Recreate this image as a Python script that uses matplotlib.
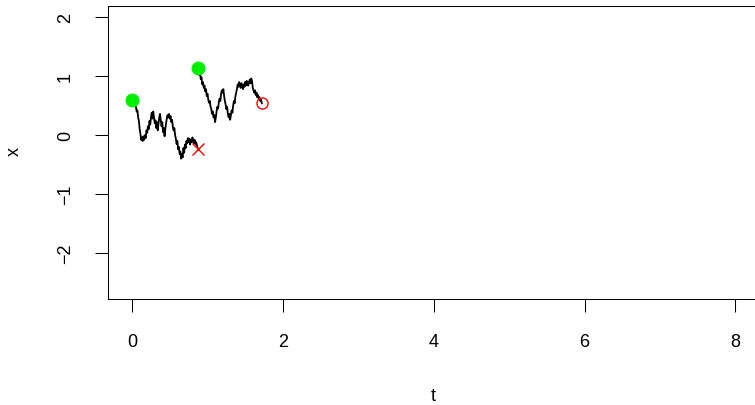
import matplotlib
matplotlib.use("Agg")
import matplotlib.pyplot as plt

plt.rcParams["font.family"] = ["Liberation Sans", "DejaVu Sans"]

# first sample path: time and state
t1 = [0.00, 0.02, 0.03, 0.05, 0.06, 0.07, 0.08, 0.09, 0.10, 0.11, 0.12, 0.13,
      0.14, 0.15, 0.16, 0.17, 0.18, 0.19, 0.20, 0.21, 0.22, 0.23, 0.24, 0.25,
      0.26, 0.27, 0.28, 0.29, 0.30, 0.31, 0.32, 0.33, 0.34, 0.35, 0.36, 0.37,
      0.38, 0.39, 0.40, 0.41, 0.42, 0.43, 0.44, 0.45, 0.46, 0.47, 0.48, 0.49,
      0.50, 0.51, 0.52, 0.53, 0.54, 0.55, 0.56, 0.57, 0.58, 0.59, 0.60, 0.61,
      0.62, 0.63, 0.64, 0.65, 0.66, 0.67, 0.68, 0.69, 0.70, 0.71, 0.72, 0.73,
      0.74, 0.75, 0.76, 0.77, 0.78, 0.79, 0.80, 0.81, 0.82, 0.83, 0.84, 0.85,
      0.86, 0.875]
x1 = [0.59, 0.60, 0.52, 0.48, 0.40, 0.42, 0.30, 0.24, 0.10, 0.02, -0.08, -0.04,
      -0.10, -0.02, -0.08, 0.00, -0.05, 0.08, 0.04, 0.15, 0.10, 0.24, 0.18, 0.30,
      0.38, 0.28, 0.40, 0.30, 0.20, 0.25, 0.12, 0.22, 0.08, 0.20, 0.30, 0.36,
      0.25, 0.15, 0.22, 0.05, 0.12, -0.02, 0.10, 0.20, 0.28, 0.34, 0.30, 0.36,
      0.28, 0.32, 0.22, 0.26, 0.14, 0.08, 0.12, 0.00, -0.06, -0.15, -0.10, -0.24,
      -0.20, -0.32, -0.28, -0.40, -0.32, -0.38, -0.22, -0.30, -0.16, -0.22, -0.10, -0.14,
      -0.05, -0.12, -0.06, -0.16, -0.08, -0.12, -0.04, -0.10, -0.14, -0.08, -0.15, -0.12,
      -0.18, -0.24]

# second sample path: time and state
t2 = [0.875, 0.89, 0.90, 0.91, 0.92, 0.93, 0.94, 0.95, 0.96, 0.97, 0.98, 0.99,
      1.00, 1.01, 1.02, 1.03, 1.04, 1.05, 1.06, 1.07, 1.08, 1.09, 1.10, 1.11,
      1.12, 1.13, 1.14, 1.15, 1.16, 1.17, 1.18, 1.19, 1.20, 1.21, 1.22, 1.23,
      1.24, 1.25, 1.26, 1.27, 1.28, 1.29, 1.30, 1.31, 1.32, 1.33, 1.34, 1.35,
      1.36, 1.37, 1.38, 1.39, 1.40, 1.41, 1.42, 1.43, 1.44, 1.45, 1.46, 1.47,
      1.48, 1.49, 1.50, 1.51, 1.52, 1.53, 1.54, 1.55, 1.56, 1.57, 1.58, 1.59,
      1.60, 1.61, 1.62, 1.63, 1.64, 1.65, 1.66, 1.67, 1.68, 1.69, 1.70, 1.71,
      1.72]
x2 = [1.14, 1.02, 1.06, 0.95, 0.98, 0.86, 0.90, 0.80, 0.84, 0.74, 0.78, 0.66,
      0.70, 0.60, 0.55, 0.58, 0.48, 0.44, 0.36, 0.40, 0.30, 0.34, 0.22, 0.30,
      0.40, 0.48, 0.45, 0.56, 0.62, 0.58, 0.70, 0.76, 0.72, 0.78, 0.66, 0.58,
      0.52, 0.44, 0.48, 0.36, 0.30, 0.36, 0.26, 0.34, 0.42, 0.38, 0.50, 0.58,
      0.54, 0.66, 0.72, 0.78, 0.86, 0.82, 0.90, 0.86, 0.80, 0.88, 0.84, 0.78,
      0.86, 0.82, 0.90, 0.84, 0.92, 0.88, 0.84, 0.90, 0.94, 0.88, 0.96, 0.92,
      0.80, 0.76, 0.72, 0.76, 0.68, 0.72, 0.64, 0.68, 0.62, 0.64, 0.58, 0.60,
      0.54]

x_ticks = [0, 2, 4, 6, 8]
y_ticks = [-2, -1, 0, 1, 2]

W, H = 755, 406
fig = plt.figure(figsize=(W / 100, H / 100), dpi=100)
# plot region in pixels: left 108, top 7, bottom 300; right edge runs past the figure
xlim = (-0.32, 8.32)
ylim = (-2.78, 2.19)
px_per_t = 75.4
ax_w = (xlim[1] - xlim[0]) * px_per_t
ax = fig.add_axes([108 / W, (H - 300) / H, ax_w / W, (300 - 7) / H])
ax.set_xlim(*xlim)
ax.set_ylim(*ylim)

ax.plot(t1, x1, color="black", lw=1.3)
ax.plot(t2, x2, color="black", lw=1.3)

# start points
ax.plot([t1[0], t2[0]], [x1[0], x2[0]], "o", color="#00ee00", ms=9, mec="#00ee00", zorder=3)
# end points
ax.plot([t1[-1]], [x1[-1]], "x", color="red", ms=8, mew=1.0, zorder=3)
ax.plot([t2[-1]], [x2[-1]], "o", mfc="none", mec="red", ms=8, mew=1.0, zorder=3)

ax.set_xticks(x_ticks)
ax.set_yticks(y_ticks)
ax.set_yticklabels([str(v).replace("-", "\u2212") for v in y_ticks],
                   rotation=90, va="center")
ax.tick_params(axis="both", direction="out", length=9.5, width=0.75,
               labelsize=13, pad=15)
for s in ["top", "left", "bottom", "right"]:
    ax.spines[s].set_linewidth(0.75)

fig.text(433 / W, 1 - 397 / H, "t", fontsize=13, ha="center", va="center")
fig.text(14 / W, 1 - 152 / H, "x", rotation=90, fontsize=13,
         ha="center", va="center")

fig.savefig("out.png", dpi=100)
